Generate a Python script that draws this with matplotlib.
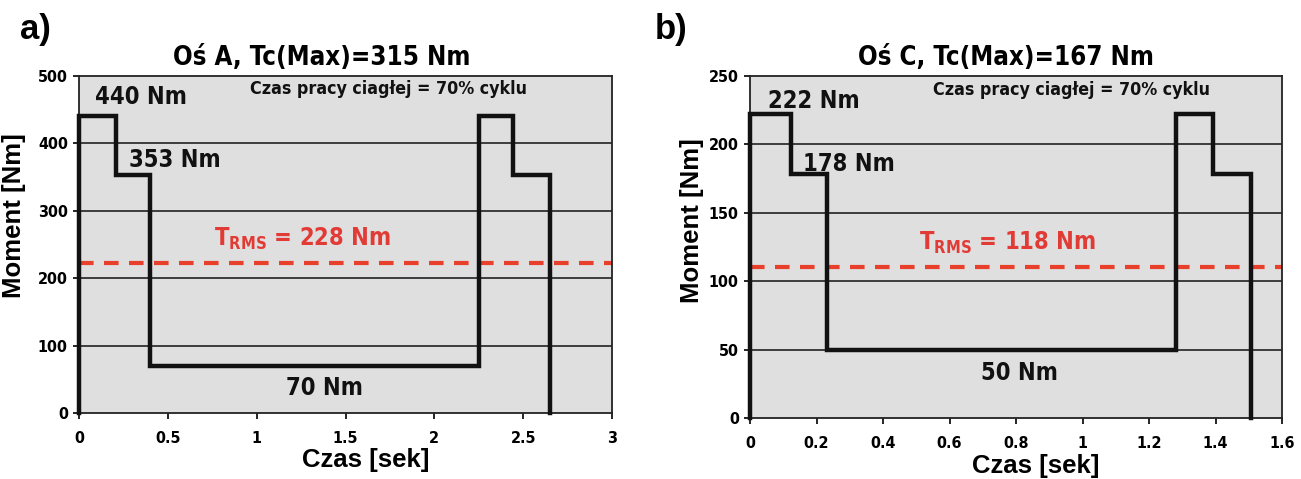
import matplotlib
matplotlib.use('Agg')
import matplotlib.pyplot as plt
from matplotlib import font_manager
from matplotlib.ticker import FuncFormatter

narrow_prop = font_manager.FontProperties(family='DejaVu Sans', weight='bold', stretch='condensed')
narrow_file = font_manager.findfont(narrow_prop)
narrow_name = 'DejaVu Sans'
for f in font_manager.fontManager.ttflist:
    if f.fname == narrow_file:
        narrow_name = f.name

wide = ['Liberation Sans', 'DejaVu Sans']
plt.rcParams['font.family'] = [narrow_name, 'DejaVu Sans']
plt.rcParams['font.weight'] = 'bold'
plt.rcParams['font.stretch'] = 'condensed'
plt.rcParams['mathtext.fontset'] = 'custom'
plt.rcParams['mathtext.rm'] = narrow_name + ':bold'
plt.rcParams['mathtext.default'] = 'rm'

# axis A
time_a = [0, 0, 0.21, 0.21, 0.40, 0.40, 2.25, 2.25, 2.44, 2.44, 2.65, 2.65]
torque_a = [0, 440, 440, 353, 353, 70, 70, 440, 440, 353, 353, 0]
rms_a = 222
# axis C
time_c = [0, 0, 0.123, 0.123, 0.232, 0.232, 1.281, 1.281, 1.391, 1.391, 1.507, 1.507]
torque_c = [0, 222, 222, 178, 178, 50, 50, 222, 222, 178, 178, 0]
rms_c = 110.5

W, H = 1301, 479
fig = plt.figure(figsize=(W / 100, H / 100), dpi=100)

bg = '#dfdfdf'
red_line = '#e8402a'
red_text = '#e23b35'


def fmt(v, pos):
    return ('%g' % round(v, 2))


def panel(rect, t, q, rms, xmax, xstep, ymax, ystep, labels, title, title_x, xl_pos, yl_pos):
    ax = fig.add_axes(rect)
    ax.set_facecolor(bg)
    ax.set_xlim(0, xmax)
    ax.set_ylim(0, ymax)
    xt = [i * xstep for i in range(int(round(xmax / xstep)) + 1)]
    yt = [i * ystep for i in range(int(round(ymax / ystep)) + 1)]
    ax.set_xticks(xt)
    ax.set_yticks(yt)
    ax.xaxis.set_major_formatter(FuncFormatter(fmt))
    ax.yaxis.set_major_formatter(FuncFormatter(fmt))
    for y in yt[1:-1]:
        ax.axhline(y, color='#111111', lw=1.1, zorder=1)
    for s in ax.spines.values():
        s.set_linewidth(1.3)
        s.set_color('#222222')
    ax.tick_params(direction='out', length=4, width=1.2, labelsize=11.5, pad=4)
    ax.tick_params(axis='x', pad=9)
    ax.axhline(rms, color=red_line, lw=3, dashes=(3.5, 2.5), zorder=2)
    ax.plot(t, q, color='#111111', lw=3.2, solid_joinstyle='miter', zorder=3, clip_on=False)
    for txt, x, y, ha, size, col in labels:
        ax.text(x, y, txt, ha=ha, va='center', fontsize=size, color=col,
                fontweight='bold', zorder=4)
    ax.set_xlabel('Czas [sek]', fontsize=18.5, fontweight='bold', family=wide,
                  fontstretch='normal')
    ax.set_ylabel('Moment [Nm]', fontsize=18.5, fontweight='bold', family=wide,
                  fontstretch='normal')
    ax.xaxis.set_label_coords(*xl_pos)
    ax.yaxis.set_label_coords(*yl_pos)
    ax.text(title_x, 1.015, title, transform=ax.transAxes, ha='center', va='bottom',
            fontsize=18.5, fontweight='bold')
    return ax


ax1 = panel([79 / W, 1 - 413 / H, 533 / W, 337 / H], time_a, torque_a, rms_a,
            3, 0.5, 500, 100,
            [('440 Nm', 0.09, 469, 'left', 17, '#111111'),
             ('353 Nm', 0.28, 375, 'left', 17, '#111111'),
             ('70 Nm', 1.38, 37, 'center', 17, '#111111'),
             ('Czas pracy ciagłej = 70% cyklu', 1.74, 480, 'center', 12.8, '#111111'),
             (r'$\mathrm{T_{RMS}}$ = 228 Nm', 1.26, 258, 'center', 17, red_text)],
            'Oś A, Tc(Max)=315 Nm', 0.456, (0.538, -0.105), (-0.099, 0.587))

ax2 = panel([750 / W, 1 - 418 / H, 532 / W, 342 / H], time_c, torque_c, rms_c,
            1.6, 0.2, 250, 50,
            [('222 Nm', 0.054, 232, 'left', 17, '#111111'),
             ('178 Nm', 0.16, 186, 'left', 17, '#111111'),
             ('50 Nm', 0.81, 33, 'center', 17, '#111111'),
             ('Czas pracy ciagłej = 70% cyklu', 0.968, 240, 'center', 12.8, '#111111'),
             (r'$\mathrm{T_{RMS}}$ = 118 Nm', 0.776, 128, 'center', 17, red_text)],
            'Oś C, Tc(Max)=167 Nm', 0.481, (0.537, -0.104), (-0.086, 0.576))

fig.text(20 / W, 1 - 30 / H, 'a)', fontsize=25, fontweight='bold', family=wide,
         fontstretch='normal', va='center')
fig.text(655 / W, 1 - 30 / H, 'b)', fontsize=25, fontweight='bold', family=wide,
         fontstretch='normal', va='center')

fig.savefig('out.png', dpi=100, facecolor='white')
